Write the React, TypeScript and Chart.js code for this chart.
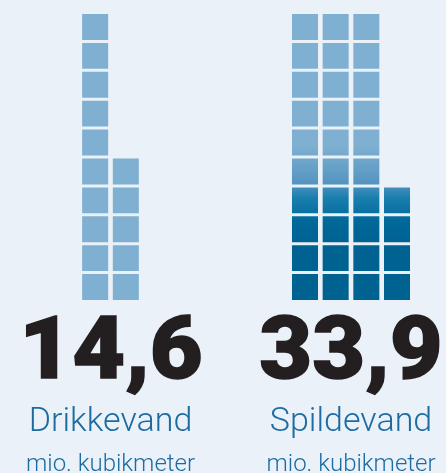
import React, { useEffect, useRef } from "react";
import { Chart, registerables } from "chart.js";

Chart.register(...registerables);

// ---- data ----
const categories = ["Drikkevand", "Spildevand"];
const values = [14.6, 33.9];
const valueLabels = ["14,6", "33,9"];
const unitLabel = "mio. kubikmeter";
const squaresPerColumn = 10;
const maxColumns = 4;

// ---- layout / style ----
const W = 446;
const H = 473;
const PAD = { top: 12.5, bottom: 171.5, left: 110.5, right: 95 };
const BG = "#eaf1f8";
const LIGHT = "#7fb0d1";
const BLUE_TEXT = "#1c6ca2";
const NUM_COLOR = "#231f20";

export default function App() {
  const ref = useRef<HTMLCanvasElement>(null);

  useEffect(() => {
    document.body.style.margin = "0";
    document.body.style.background = BG;
    const counts = values.map((v) => Math.round(v));
    const gradCache: Record<string, CanvasGradient> = {};

    const bg = (ctx: any) => {
      if (ctx.dataIndex !== 1) return LIGHT;
      const chart = ctx.chart;
      const y = chart.scales.y;
      const key = "g";
      if (!gradCache[key]) {
        const y0 = y.getPixelForValue(5.4);
        const y1 = y.getPixelForValue(2.0);
        const g = chart.ctx.createLinearGradient(0, y0, 0, y1);
        const stop = (v: number, c: string) => {
          const p = (y.getPixelForValue(v) - y0) / (y1 - y0);
          g.addColorStop(Math.min(1, Math.max(0, p)), c);
        };
        stop(5.4, "#80b0d1");
        stop(4.1, "#5495c0");
        stop(3.6, "#1a7fae");
        stop(2.8, "#00689a");
        stop(2.0, "#006291");
        gradCache[key] = g;
      }
      return gradCache[key];
    };

    const datasets: any[] = [];
    for (let c = 0; c < maxColumns; c++) {
      for (let r = 0; r < squaresPerColumn; r++) {
        datasets.push({
          label: `c${c}r${r}`,
          stack: `col${c}`,
          data: counts.map((n) => (c * squaresPerColumn + r < n ? 1 : null)),
          backgroundColor: bg,
          borderColor: BG,
          borderWidth: { top: 1.5, bottom: 1.5, left: 2.33, right: 2.33 },
          borderSkipped: false,
          inflateAmount: 0,
          barThickness: 30.67,
          skipNull: true,
          clip: false,
        });
      }
    }

    const chart = new Chart(ref.current!, {
      type: "bar",
      data: { labels: categories, datasets },
      options: {
        animation: false,
        responsive: false,
        devicePixelRatio: 1,
        layout: { padding: PAD },
        plugins: { legend: { display: false }, tooltip: { enabled: false } },
        scales: {
          x: { display: false, offset: false, grid: { display: false } },
          y: { display: false, stacked: true, min: 0, max: squaresPerColumn },
        },
      } as any,
    });
    return () => chart.destroy();
  }, []);

  const centers = [PAD.left, W - PAD.right];

  return (
    <div style={{ position: "relative", width: W, height: H, background: BG, overflow: "hidden" }}>
      <canvas ref={ref} width={W} height={H} style={{ position: "absolute", left: 0, top: 0 }} />
      {categories.map((cat, i) => (
        <React.Fragment key={cat}>
          <div
            style={{
              position: "absolute",
              left: centers[i] - 150,
              width: 300,
              top: 305,
              textAlign: "center",
              fontFamily: "Roboto, 'Liberation Sans', sans-serif",
              fontWeight: 900,
              fontSize: 87,
              lineHeight: "87px",
              color: NUM_COLOR,
              whiteSpace: "nowrap",
              transform: "scaleX(1.05)",
              WebkitTextStroke: `1.4px ${NUM_COLOR}`,
            }}
          >
            {valueLabels[i]}
          </div>
          <div
            style={{
              position: "absolute",
              left: centers[i] - 150,
              width: 300,
              top: 402,
              textAlign: "center",
              fontFamily: "Roboto, 'Liberation Sans', sans-serif",
              fontWeight: 300,
              fontSize: 34,
              lineHeight: "34px",
              color: BLUE_TEXT,
              whiteSpace: "nowrap",
            }}
          >
            {cat}
          </div>
          <div
            style={{
              position: "absolute",
              left: centers[i] - 150,
              width: 300,
              top: 451,
              textAlign: "center",
              fontFamily: "Roboto, 'Liberation Sans', sans-serif",
              fontWeight: 300,
              fontSize: 24,
              lineHeight: "24px",
              color: BLUE_TEXT,
              whiteSpace: "nowrap",
            }}
          >
            {unitLabel}
          </div>
        </React.Fragment>
      ))}
    </div>
  );
}
